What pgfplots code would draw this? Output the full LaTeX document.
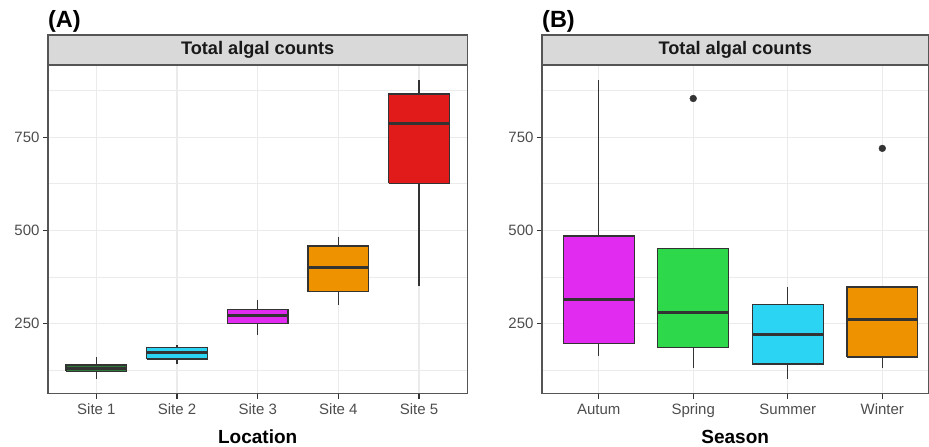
\documentclass[border=0pt]{standalone}
\usepackage{fontspec}
\setmainfont{Liberation Sans}
\usepackage{pgfplots}
\pgfplotsset{compat=1.18}
\definecolor{gridc}{HTML}{EBEBEB}
\definecolor{frame}{HTML}{333333}
\definecolor{axframe}{HTML}{555555}
\definecolor{stripfill}{HTML}{D9D9D9}
\definecolor{tickc}{HTML}{4D4D4D}
\definecolor{cgreen}{HTML}{2DD84A}
\definecolor{cdkgreen}{HTML}{2E7A3A}
\definecolor{ccyan}{HTML}{2BD4F2}
\definecolor{cmag}{HTML}{E22BF0}
\definecolor{corange}{HTML}{EE9200}
\definecolor{cred}{HTML}{E11A1A}
\pgfplotsset{
  ggbox/.style={
    scale only axis, height=329pt,
    ymin=61, ymax=944,
    ytick={250,500,750}, minor ytick={125,375,625,875},
    ymajorgrids, yminorgrids, xmajorgrids,
    major grid style={gridc, line width=1.1pt},
    minor grid style={gridc, line width=0.6pt},
    axis line style={axframe, line width=1.1pt},
    tick align=outside, tick pos=left,
    major tick length=5pt, minor tick length=0pt,
    tick style={frame, line width=1.1pt},
    /pgf/number format/assume math mode=true,
    ticklabel style={font=\fontsize{15}{15}\selectfont, text=tickc},
    xticklabel style={anchor=base, yshift=-15.3pt},
    xlabel style={at={(axis description cs:0.5,0)}, anchor=base, yshift=-49.7pt, font=\bfseries\fontsize{19}{19}\selectfont},
    clip=false,
  },
  wh/.style={frame, line width=1.3pt},
  bxs/.style={draw=frame, line width=1.3pt, fill=#1},
  md/.style={frame, line width=3pt},
}
\newcommand{\strip}[1]{%
  \draw[axframe, fill=stripfill, line width=1.1pt] (rel axis cs:0,1) rectangle (rel axis cs:1,1.0912);
  \node[anchor=base, inner sep=0pt, text=black!90, font=\bfseries\fontsize{18.2}{18.2}\selectfont] at (rel axis cs:0.5,1.0304) {Total algal counts};
  \node[anchor=base west, inner sep=0pt, font=\bfseries\fontsize{23.5}{23.5}\selectfont] at (rel axis cs:0,1.1134) {#1};
}
\begin{document}
\begin{tikzpicture}
\path (0pt,0pt) rectangle (929pt,-446pt);
% Panel A
\begin{axis}[ggbox, at={(48pt,-65pt)}, anchor=north west, width=419.7pt,
  xmin=0.4, xmax=5.6, xtick={1,2,3,4,5},
  xticklabels={Site 1,Site 2,Site 3,Site 4,Site 5},
  xlabel={Location}]
% Site 1
\addplot[wh] coordinates {(1,100) (1,121)};
\addplot[wh] coordinates {(1,138) (1,159)};
\addplot[bxs=cdkgreen] coordinates {(0.625,121) (1.375,121) (1.375,138) (0.625,138) (0.625,121)};
\addplot[md] coordinates {(0.625,130) (1.375,130)};
% Site 2
\addplot[wh] coordinates {(2,140) (2,154)};
\addplot[wh] coordinates {(2,186) (2,193)};
\addplot[bxs=ccyan] coordinates {(1.625,154) (2.375,154) (2.375,186) (1.625,186) (1.625,154)};
\addplot[md] coordinates {(1.625,172) (2.375,172)};
% Site 3
\addplot[wh] coordinates {(3,220) (3,249)};
\addplot[wh] coordinates {(3,288) (3,314)};
\addplot[bxs=cmag] coordinates {(2.625,249) (3.375,249) (3.375,288) (2.625,288) (2.625,249)};
\addplot[md] coordinates {(2.625,271) (3.375,271)};
% Site 4
\addplot[wh] coordinates {(4,300) (4,335)};
\addplot[wh] coordinates {(4,458) (4,483)};
\addplot[bxs=corange] coordinates {(3.625,335) (4.375,335) (4.375,458) (3.625,458) (3.625,335)};
\addplot[md] coordinates {(3.625,400) (4.375,400)};
% Site 5
\addplot[wh] coordinates {(5,350) (5,626)};
\addplot[wh] coordinates {(5,866) (5,903)};
\addplot[bxs=cred] coordinates {(4.625,626) (5.375,626) (5.375,866) (4.625,866) (4.625,626)};
\addplot[md] coordinates {(4.625,787) (5.375,787)};
\strip{(A)}
\end{axis}
% Panel B
\begin{axis}[ggbox, at={(542.3pt,-65pt)}, anchor=north west, width=386.7pt,
  xmin=0.4, xmax=4.488, xtick={1,2,3,4},
  xticklabels={Autum,Spring,Summer,Winter},
  xlabel={Season}]
% Autum
\addplot[wh] coordinates {(1,162) (1,196)};
\addplot[wh] coordinates {(1,485) (1,904)};
\addplot[bxs=cmag] coordinates {(0.625,196) (1.375,196) (1.375,485) (0.625,485) (0.625,196)};
\addplot[md] coordinates {(0.625,315) (1.375,315)};
% Spring
\addplot[wh] coordinates {(2,130) (2,185)};
\addplot[bxs=cgreen] coordinates {(1.625,185) (2.375,185) (2.375,451) (1.625,451) (1.625,185)};
\addplot[md] coordinates {(1.625,280) (2.375,280)};
% Summer
\addplot[wh] coordinates {(3,101) (3,141)};
\addplot[wh] coordinates {(3,301) (3,349)};
\addplot[bxs=ccyan] coordinates {(2.625,141) (3.375,141) (3.375,301) (2.625,301) (2.625,141)};
\addplot[md] coordinates {(2.625,221) (3.375,221)};
% Winter
\addplot[wh] coordinates {(4,130) (4,160)};
\addplot[bxs=corange] coordinates {(3.625,160) (4.375,160) (4.375,348) (3.625,348) (3.625,160)};
\addplot[md] coordinates {(3.625,261) (4.375,261)};
% outliers
\addplot[only marks, mark=*, mark size=3.4pt, mark options={fill=frame, draw=frame}] coordinates {(2,854) (4,720)};
\strip{(B)}
\end{axis}
\end{tikzpicture}
\end{document}
